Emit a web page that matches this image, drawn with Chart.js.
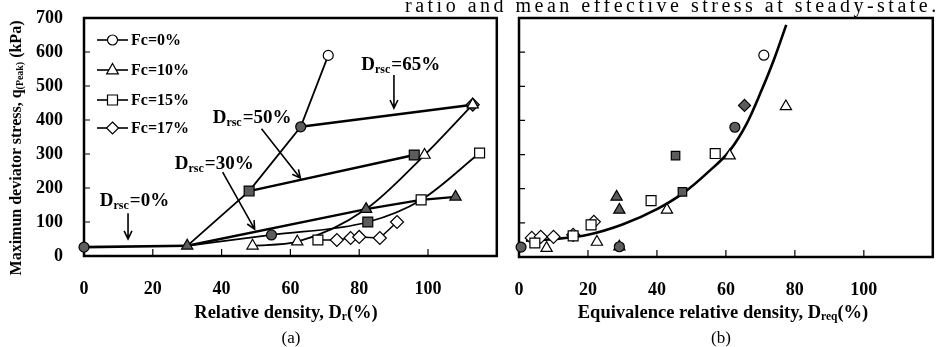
<!DOCTYPE html>
<html>
<head>
<meta charset="utf-8">
<script src="https://cdn.jsdelivr.net/npm/chart.js@4.4.1/dist/chart.umd.min.js"></script>
<style>
  body { margin: 0; background: #fff; width: 941px; height: 347px; overflow: hidden; position: relative;
         font-family: "Liberation Serif", "Times New Roman", serif; }
  canvas { position: absolute; top: 0; }
  #chartA { left: 0; }
  #chartB { left: 505px; }
  .txt { position: absolute; white-space: nowrap; color: #000; }
  .bold { font-weight: bold; }
  .ctr { text-align: center; width: 400px; line-height: 20px; }
  sub { font-size: 0.62em; vertical-align: -0.2em; }
</style>
</head>
<body>
<canvas id="chartA" width="505" height="347"></canvas>
<canvas id="chartB" width="436" height="347"></canvas>

<div class="txt" style="left:405px;top:-5px;font-size:20px;line-height:20px;letter-spacing:3.5px">ratio and mean effective stress at steady-state.</div>
<div class="txt bold" style="left:-132px;top:136px;width:300px;text-align:center;line-height:20px;font-size:16px;transform:rotate(-90deg)">Maximun deviator stress, q<sub>(Peak)</sub> (kPa)</div>
<div class="txt bold ctr" style="left:86px;top:302px;font-size:18.5px">Relative density, D<sub>r</sub>(%)</div>
<div class="txt ctr" style="left:91px;top:328px;font-size:17px">(a)</div>
<div class="txt bold ctr" style="left:523px;top:302px;font-size:18.5px">Equivalence relative density, D<sub>req</sub>(%)</div>
<div class="txt ctr" style="left:521px;top:328px;font-size:17px">(b)</div>

<script>
// ---- (a) curves: relative density Dr (%) vs q(peak) (kPa)
const fc0Dr = [30, 48, 63, 71];
const fc0Q = [30, 191, 380, 590];
const fc10Dr = [49, 62, 82, 99, 113];
const fc10Q = [30, 42, 138, 297, 445];
const fc15Dr = [30, 54.5, 82.5, 98, 115];
const fc15Q = [30, 62, 100, 165, 303];
const fc17Dr = [68, 73.5, 77.5, 80, 86, 91];
const fc17Q = [47, 47, 53, 56, 53, 100];

// lines of constant Drsc
const drsc0Dr = [0, 30];
const drsc0Q = [26, 30];
const drsc30Dr = [30, 82, 98, 108];
const drsc30Q = [30, 138, 165, 174];
const drsc50Dr = [48, 96];
const drsc50Q = [191, 297];
const drsc65Dr = [63, 113];
const drsc65Q = [380, 445];

// (a) markers
const openCircleDr = [71], openCircleQ = [590];
const openTriDr = [49, 62, 99, 113], openTriQ = [30, 42, 297, 445];
const openSqDr = [68, 98, 115], openSqQ = [47, 165, 303];
const openDiaDr = [73.5, 77.5, 80, 86, 91], openDiaQ = [47, 53, 56, 53, 100];
const grayCircleDr = [0, 54.5, 63], grayCircleQ = [26, 62, 380];
const grayTriDr = [30, 82, 108], grayTriQ = [30, 138, 174];
const graySqDr = [48, 82.5, 96], graySqQ = [191, 100, 297];
const grayDiaDr = [113], grayDiaQ = [445];

// ---- (b) equivalence relative density Dreq (%) vs q(peak)
const bOpenCircleD = [71], bOpenCircleQ = [591];
const bOpenTriD = [77.4, 61.1, 42.9, 22.6, 8], bOpenTriQ = [441, 297, 138, 44, 26];
const bOpenSqD = [56.9, 38.3, 20.9, 15.7, 4.6], bOpenSqQ = [303, 165, 94, 62, 41];
const bOpenDiaD = [21.7, 15.7, 3.7, 6.3, 10], bOpenDiaQ = [103, 65, 56, 59, 59];
const bGrayCircleD = [0.6, 62.6, 29.1], bGrayCircleQ = [29, 380, 30];
const bGrayTriD = [28.3, 29.1, 29.1], bGrayTriQ = [176, 138, 30];
const bGraySqD = [45.4, 47.4], bGraySqQ = [297, 191];
const bGrayDiaD = [65.4], bGrayDiaQ = [444];
const fitD = [2, 10, 20, 30, 40, 48, 55, 61, 66, 70, 74, 77.5];
const fitQ = [48, 52, 65, 95, 140, 190, 250, 310, 390, 480, 580, 680];

const xTicks = [0, 20, 40, 60, 80, 100, 120];
const yTicks = [0, 100, 200, 300, 400, 500, 600, 700];

const GRAY = '#5c5c5c';
const FONT = '"Liberation Serif", "Times New Roman", serif';

function pts(xs, ys) {
    return xs.map(function (x, i) { return {x: x, y: ys[i]}; });
}

function curve(xs, ys, w, smooth) {
    return {
        data: pts(xs, ys), showLine: true, borderColor: '#000', borderWidth: w,
        pointRadius: 0, pointHoverRadius: 0, fill: false, tension: 0,
        cubicInterpolationMode: smooth ? 'monotone' : 'default', order: 2, clip: false
    };
}

function marks(xs, ys, style, r, fill) {
    return {
        data: pts(xs, ys), showLine: false, pointStyle: style, pointRadius: r, pointHoverRadius: r,
        pointBackgroundColor: fill, pointBorderColor: '#000', pointBorderWidth: 1.2, order: 0, clip: false
    };
}

function scalesFor(yLabels, yWidth, xHeight) {
    return {
        x: {
            type: 'linear', min: 0, max: 120,
            afterBuildTicks: function (s) { s.ticks = xTicks.map(function (v) { return {value: v}; }); },
            afterFit: function (s) { s.height = xHeight; s.paddingLeft = 0; s.paddingRight = 0; },
            grid: {display: false, drawTicks: false}, border: {display: false},
            ticks: {
                padding: 23, color: '#000', font: {family: FONT, size: 18, weight: 'bold'},
                maxRotation: 0,
                callback: function (v) { return v > 100 ? '' : v; }
            }
        },
        y: {
            type: 'linear', min: 0, max: 700,
            afterBuildTicks: function (s) { s.ticks = yTicks.map(function (v) { return {value: v}; }); },
            afterFit: function (s) { s.width = yWidth; s.paddingTop = 0; s.paddingBottom = 0; },
            grid: {display: false, drawTicks: false}, border: {display: false},
            ticks: {display: yLabels, padding: 21, color: '#000', font: {family: FONT, size: 18, weight: 'bold'}}
        }
    };
}

// box and inward tick marks
const framePlugin = {
    id: 'frame',
    beforeDatasetsDraw: function (chart) {
        const ctx = chart.ctx, a = chart.chartArea, x = chart.scales.x, y = chart.scales.y;
        ctx.save();
        ctx.strokeStyle = '#000';
        ctx.lineWidth = 2.5;
        ctx.strokeRect(a.left, a.top, a.right - a.left, a.bottom - a.top);
        ctx.lineWidth = 1.2;
        ctx.beginPath();
        yTicks.slice(1, -1).forEach(function (v) {
            const py = y.getPixelForValue(v);
            ctx.moveTo(a.left, py);
            ctx.lineTo(a.left + 6, py);
        });
        xTicks.slice(1, -1).forEach(function (v) {
            const px = x.getPixelForValue(v);
            ctx.moveTo(px, a.bottom);
            ctx.lineTo(px, a.bottom - 7);
        });
        ctx.stroke();
        ctx.restore();
    }
};

function shape(ctx, style, x, y, r) {
    ctx.beginPath();
    if (style === 'circle') {
        ctx.arc(x, y, r, 0, 2 * Math.PI);
    } else if (style === 'triangle') {
        ctx.moveTo(x, y - r);
        ctx.lineTo(x + r * 0.9, y + r * 0.6);
        ctx.lineTo(x - r * 0.9, y + r * 0.6);
        ctx.closePath();
    } else if (style === 'rect') {
        ctx.rect(x - r, y - r, 2 * r, 2 * r);
    } else {
        ctx.moveTo(x, y - r); ctx.lineTo(x + r, y); ctx.lineTo(x, y + r); ctx.lineTo(x - r, y);
        ctx.closePath();
    }
    ctx.fillStyle = '#fff';
    ctx.fill();
    ctx.stroke();
}

function arrow(ctx, x1, y1, x2, y2) {
    const ang = Math.atan2(y2 - y1, x2 - x1), h = 9;
    ctx.beginPath();
    ctx.moveTo(x1, y1);
    ctx.lineTo(x2, y2);
    ctx.moveTo(x2 - h * Math.cos(ang - 0.45), y2 - h * Math.sin(ang - 0.45));
    ctx.lineTo(x2, y2);
    ctx.lineTo(x2 - h * Math.cos(ang + 0.45), y2 - h * Math.sin(ang + 0.45));
    ctx.stroke();
}

function subLabel(ctx, x, y, main, sub, rest) {
    ctx.font = 'bold 19px ' + FONT;
    ctx.fillText(main, x, y);
    let w = ctx.measureText(main).width;
    ctx.font = 'bold 12px ' + FONT;
    ctx.fillText(sub, x + w, y + 3);
    w += ctx.measureText(sub).width + 1;
    ctx.font = 'bold 19px ' + FONT;
    ctx.fillText(rest, x + w, y);
}

// legend and Drsc labels of chart (a)
const notesPlugin = {
    id: 'notes',
    afterDraw: function (chart) {
        const ctx = chart.ctx, sx = chart.scales.x, sy = chart.scales.y;
        ctx.save();
        ctx.strokeStyle = '#000';
        ctx.fillStyle = '#000';

        const legend = [['circle', 'Fc=0%', 40, 5], ['triangle', 'Fc=10%', 70, 6.5],
                        ['rect', 'Fc=15%', 100, 5], ['diamond', 'Fc=17%', 128, 6]];
        legend.forEach(function (e) {
            ctx.lineWidth = 1.6;
            ctx.beginPath();
            ctx.moveTo(97, e[2]);
            ctx.lineTo(128, e[2]);
            ctx.stroke();
            ctx.lineWidth = 1.2;
            shape(ctx, e[0], 112.5, e[2], e[3]);
            ctx.fillStyle = '#000';
            ctx.font = 'bold 16px ' + FONT;
            ctx.textBaseline = 'middle';
            ctx.fillText(e[1], 131, e[2] + 1);
        });

        ctx.textBaseline = 'alphabetic';
        const notes = [
            ['65%', 80.6, 547, 90.1, 532, 90.1, 435],
            ['50%', 37.4, 391, 51.6, 374, 62.9, 229],
            ['30%', 26.4, 256, 40.3, 247, 49.6, 79],
            ['0%', 4.6, 147, 12.8, 126, 12.8, 50]
        ];
        notes.forEach(function (n) {
            subLabel(ctx, sx.getPixelForValue(n[1]), sy.getPixelForValue(n[2]), 'D', 'rsc', '=' + n[0]);
            ctx.lineWidth = 1.6;
            arrow(ctx, sx.getPixelForValue(n[3]), sy.getPixelForValue(n[4]),
                  sx.getPixelForValue(n[5]), sy.getPixelForValue(n[6]));
        });
        ctx.restore();
    }
};

new Chart(document.getElementById('chartA'), {
    type: 'scatter',
    data: {
        datasets: [
            curve(drsc0Dr, drsc0Q, 2.6, false),
            curve(drsc30Dr, drsc30Q, 2.4, false),
            curve(drsc50Dr, drsc50Q, 2.4, false),
            curve(drsc65Dr, drsc65Q, 2.6, false),
            curve(fc0Dr, fc0Q, 1.8, false),
            curve(fc10Dr, fc10Q, 1.8, true),
            curve(fc15Dr, fc15Q, 1.8, true),
            curve(fc17Dr, fc17Q, 1.5, false),
            marks(openCircleDr, openCircleQ, 'circle', 5, '#fff'),
            marks(openTriDr, openTriQ, 'triangle', 6.5, '#fff'),
            marks(openSqDr, openSqQ, 'rect', 7, '#fff'),
            marks(openDiaDr, openDiaQ, 'rectRot', 6.5, '#fff'),
            marks(grayCircleDr, grayCircleQ, 'circle', 5, GRAY),
            marks(grayTriDr, grayTriQ, 'triangle', 6.5, GRAY),
            marks(graySqDr, graySqQ, 'rect', 7, GRAY),
            marks(grayDiaDr, grayDiaQ, 'rectRot', 6.5, GRAY)
        ]
    },
    options: {
        responsive: false, animation: false, devicePixelRatio: 1,
        layout: {padding: {top: 18, right: 7, left: 0, bottom: 0}},
        plugins: {legend: {display: false}, tooltip: {enabled: false}},
        scales: scalesFor(true, 84, 91)
    },
    plugins: [framePlugin, notesPlugin]
});

new Chart(document.getElementById('chartB'), {
    type: 'scatter',
    data: {
        datasets: [
            curve(fitD, fitQ, 2.6, true),
            marks(bOpenCircleD, bOpenCircleQ, 'circle', 5, '#fff'),
            marks(bOpenTriD, bOpenTriQ, 'triangle', 6.5, '#fff'),
            marks(bOpenSqD, bOpenSqQ, 'rect', 7, '#fff'),
            marks(bOpenDiaD, bOpenDiaQ, 'rectRot', 6.5, '#fff'),
            marks(bGrayCircleD, bGrayCircleQ, 'circle', 5, GRAY),
            marks(bGrayTriD, bGrayTriQ, 'triangle', 6.5, GRAY),
            marks(bGraySqD, bGraySqQ, 'rect', 6, GRAY),
            marks(bGrayDiaD, bGrayDiaQ, 'rectRot', 6, GRAY)
        ]
    },
    options: {
        responsive: false, animation: false, devicePixelRatio: 1,
        layout: {padding: {top: 18, right: 5, left: 0, bottom: 0}},
        plugins: {legend: {display: false}, tooltip: {enabled: false}},
        scales: scalesFor(false, 14, 90)
    },
    plugins: [framePlugin]
});
</script>
</body>
</html>
